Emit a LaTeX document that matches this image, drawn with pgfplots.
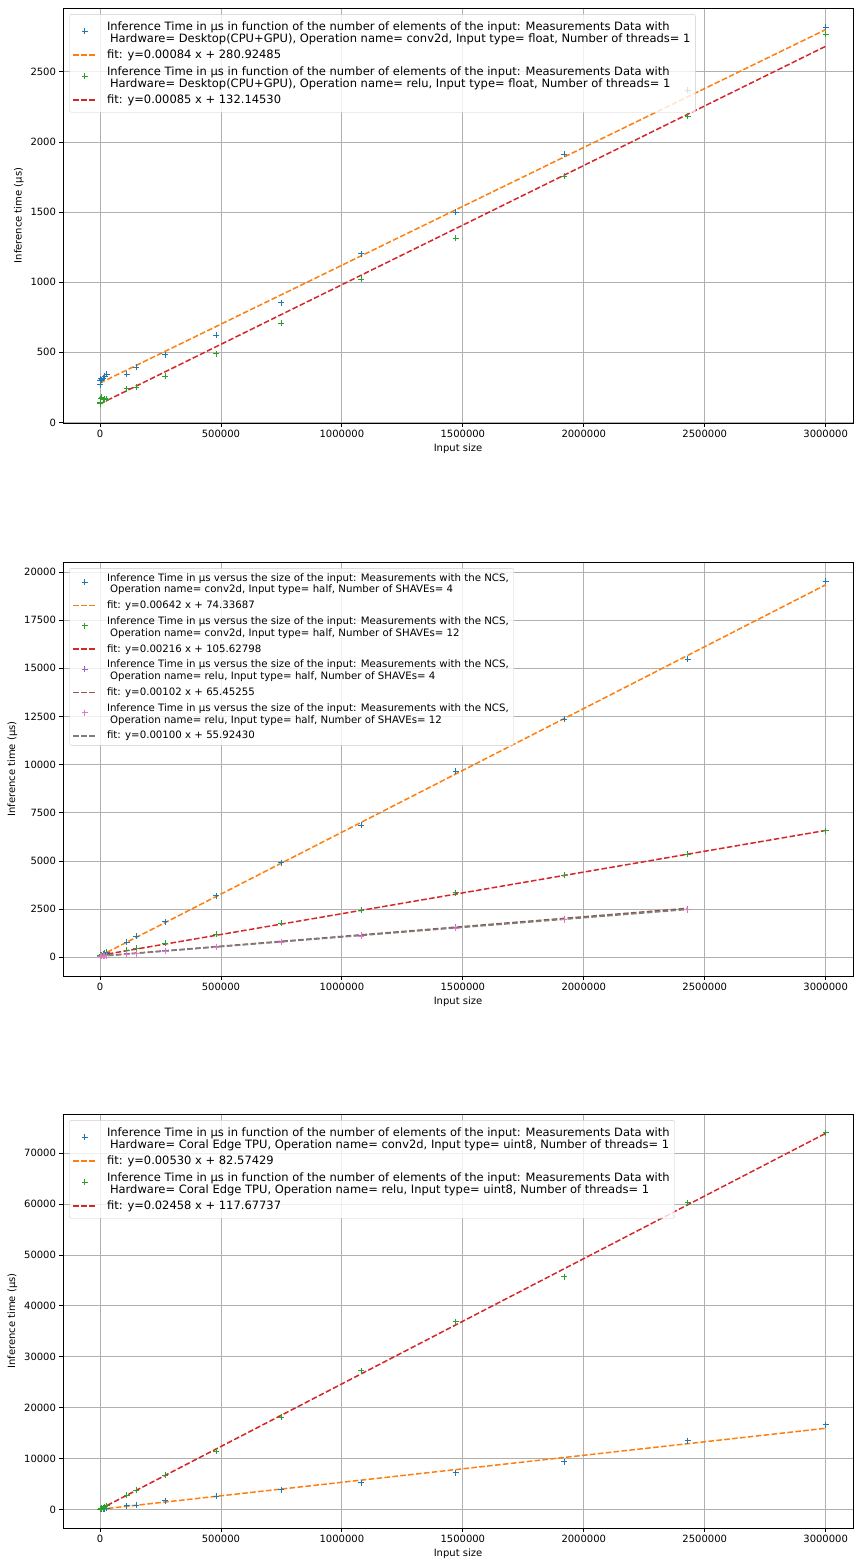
\documentclass[border=0pt]{standalone}
\usepackage{fontspec}
\setmainfont{DejaVu Sans}
\usepackage{pgfplots}
\pgfplotsset{compat=1.18}

\definecolor{c0}{HTML}{1F77B4}
\definecolor{c1}{HTML}{FF7F0E}
\definecolor{c2}{HTML}{2CA02C}
\definecolor{c3}{HTML}{D62728}
\definecolor{c4}{HTML}{9467BD}
\definecolor{c5}{HTML}{8C564B}
\definecolor{c6}{HTML}{E377C2}
\definecolor{c7}{HTML}{7F7F7F}

\pgfplotsset{
  panel/.style={
    scale only axis, width=790pt,
    xmin=-153000, xmax=3113000,
    xtick={0,500000,1000000,1500000,2000000,2500000,3000000},
    scaled x ticks=false, scaled y ticks=false,
    /pgf/number format/.cd, fixed, 1000 sep={}, assume math mode=true, /pgfplots/.cd,
    tick pos=left, tick align=outside, major tick length=3.5pt,
    tick style={black, line width=0.8pt},
    axis line style={line width=0.8pt},
    ticklabel style={font=\fontsize{10}{12}\selectfont},
    label style={font=\fontsize{10}{12}\selectfont},
    grid=major, major grid style={color=black!31, line width=0.8pt},
    xlabel={Input size},
    ylabel={Inference time (µs)},
    xlabel style={yshift=1pt},
    legend cell align=left,
    legend style={cells={align=left}, draw=black!20, rounded corners=2pt,
      fill=white, fill opacity=0.8, text opacity=1, draw opacity=1,
      at={(0.008,0.985)}, anchor=north west, inner xsep=3pt, inner ysep=4pt,
      /tikz/every odd column/.append style={column sep=8pt}},
  },
  pts/.style={only marks, mark=+, mark size=3pt, line width=0.8pt, color=#1,
    legend image code/.code={%
      \path (0pt,0pt) (23pt,0pt);
      \draw[##1, mark repeat=1] plot coordinates {(11.5pt,1.5pt)};}},
  fit/.style={no marks, line width=1.5pt, dash pattern=on 5.55pt off 2.4pt, color=#1,
    legend image code/.code={%
      \draw[##1] (0pt,0pt) -- (23pt,0pt);}},
}

\begin{document}
\begin{tikzpicture}
\useasboundingbox (0pt,0pt) rectangle (854pt,-1559pt);

% ---------------- Desktop (CPU+GPU) ----------------
\begin{axis}[panel, height=415pt, at={(63pt,-423pt)}, anchor=south west,
  ymin=-4, ymax=2955, ytick={0,500,1000,1500,2000,2500},
  legend style={font=\fontsize{11.5}{12}\selectfont, row sep=2.3pt, inner ysep=5pt}]
\addplot[pts=c0] coordinates {(48,268) (768,300) (3072,311) (6912,304) (12288,316) (19200,328) (27648,345) (110592,345) (150528,392) (270000,482) (480000,620) (750000,855) (1080000,1202) (1470000,1500) (1920000,1913) (2430000,2369) (3000000,2818)};
\addlegendentry{Inference Time in µs in function of the number of elements of the input: Measurements Data with\\\hspace*{3pt}Hardware= Desktop(CPU+GPU), Operation name= conv2d, Input type= float, Number of threads= 1}
\addplot[fit=c1] coordinates {(48,280.97) (3000000,2800.92)};
\addlegendentry{fit: y=0.00084 x + 280.92485}
\addplot[pts=c2] coordinates {(48,133) (768,142) (3072,169) (6912,181) (12288,162) (19200,170) (27648,165) (110592,240) (150528,252) (270000,328) (480000,489) (750000,708) (1080000,1022) (1470000,1314) (1920000,1756) (2430000,2184) (3000000,2770)};
\addlegendentry{Inference Time in µs in function of the number of elements of the input: Measurements Data with\\\hspace*{3pt}Hardware= Desktop(CPU+GPU), Operation name= relu, Input type= float, Number of threads= 1}
\addplot[fit=c3] coordinates {(48,132.19) (3000000,2682.15)};
\addlegendentry{fit: y=0.00085 x + 132.14530}
\end{axis}

% ---------------- NCS ----------------
\begin{axis}[panel, height=414pt, at={(63pt,-976pt)}, anchor=south west,
  ymin=-970, ymax=20519, ytick={0,2500,5000,7500,10000,12500,15000,17500,20000},
  legend style={font=\fontsize{10.2}{11.7}\selectfont, row sep=2.6pt, inner ysep=3pt}]
\addplot[pts=c0] coordinates {(48,80) (768,90) (3072,110) (6912,130) (12288,160) (19200,200) (27648,275) (110592,790) (150528,1105) (270000,1845) (480000,3190) (750000,4920) (1080000,6862) (1470000,9673) (1920000,12360) (2430000,15470) (3000000,19517)};
\addlegendentry{Inference Time in µs versus the size of the input: Measurements with the NCS,\\\hspace*{3pt}Operation name= conv2d, Input type= half, Number of SHAVEs= 4}
\addplot[fit=c1] coordinates {(48,74.65) (3000000,19334.34)};
\addlegendentry{fit: y=0.00642 x + 74.33687}
\addplot[pts=c2] coordinates {(48,110) (768,115) (3072,120) (6912,130) (12288,140) (19200,150) (27648,170) (110592,380) (150528,465) (270000,725) (480000,1190) (750000,1760) (1080000,2450) (1470000,3360) (1920000,4270) (2430000,5358) (3000000,6570)};
\addlegendentry{Inference Time in µs versus the size of the input: Measurements with the NCS,\\\hspace*{3pt}Operation name= conv2d, Input type= half, Number of SHAVEs= 12}
\addplot[fit=c3] coordinates {(48,105.73) (3000000,6585.63)};
\addlegendentry{fit: y=0.00216 x + 105.62798}
\addplot[pts=c4] coordinates {(48,65) (768,66) (3072,70) (6912,75) (12288,80) (19200,90) (27648,100) (110592,180) (150528,215) (270000,340) (480000,560) (750000,820) (1080000,1140) (1470000,1560) (1920000,1990) (2430000,2495)};
\addlegendentry{Inference Time in µs versus the size of the input: Measurements with the NCS,\\\hspace*{3pt}Operation name= relu, Input type= half, Number of SHAVEs= 4}
\addplot[fit=c5] coordinates {(48,65.50) (2430000,2544.05)};
\addlegendentry{fit: y=0.00102 x + 65.45255}
\addplot[pts=c6] coordinates {(48,55) (768,56) (3072,58) (6912,62) (12288,68) (19200,75) (27648,85) (110592,150) (150528,195) (270000,320) (480000,520) (750000,790) (1080000,1110) (1470000,1520) (1920000,1960) (2430000,2480)};
\addlegendentry{Inference Time in µs versus the size of the input: Measurements with the NCS,\\\hspace*{3pt}Operation name= relu, Input type= half, Number of SHAVEs= 12}
\addplot[fit=c7] coordinates {(48,55.97) (2430000,2485.92)};
\addlegendentry{fit: y=0.00100 x + 55.92430}
\end{axis}

% ---------------- Coral Edge TPU ----------------
\begin{axis}[panel, height=414pt, at={(63pt,-1528pt)}, anchor=south west,
  ymin=-3590, ymax=77650, ytick={0,10000,20000,30000,40000,50000,60000,70000},
  legend style={font=\fontsize{11.5}{12}\selectfont, row sep=2.3pt, inner ysep=5pt}]
\addplot[pts=c0] coordinates {(48,100) (768,110) (3072,130) (6912,160) (12288,190) (19200,230) (27648,290) (110592,785) (150528,920) (270000,1770) (480000,2610) (750000,3930) (1080000,5300) (1470000,7260) (1920000,9420) (2430000,13540) (3000000,16680)};
\addlegendentry{Inference Time in µs in function of the number of elements of the input: Measurements Data with\\\hspace*{3pt}Hardware= Coral Edge TPU, Operation name= conv2d, Input type= uint8, Number of threads= 1}
\addplot[fit=c1] coordinates {(48,82.83) (3000000,15982.57)};
\addlegendentry{fit: y=0.00530 x + 82.57429}
\addplot[pts=c2] coordinates {(48,120) (768,150) (3072,200) (6912,290) (12288,420) (19200,600) (27648,800) (110592,2810) (150528,3870) (270000,6730) (480000,11440) (750000,18110) (1080000,27280) (1470000,36900) (1920000,45720) (2430000,60240) (3000000,73950)};
\addlegendentry{Inference Time in µs in function of the number of elements of the input: Measurements Data with\\\hspace*{3pt}Hardware= Coral Edge TPU, Operation name= relu, Input type= uint8, Number of threads= 1}
\addplot[fit=c3] coordinates {(48,118.86) (3000000,73857.68)};
\addlegendentry{fit: y=0.02458 x + 117.67737}
\end{axis}
\end{tikzpicture}
\end{document}
